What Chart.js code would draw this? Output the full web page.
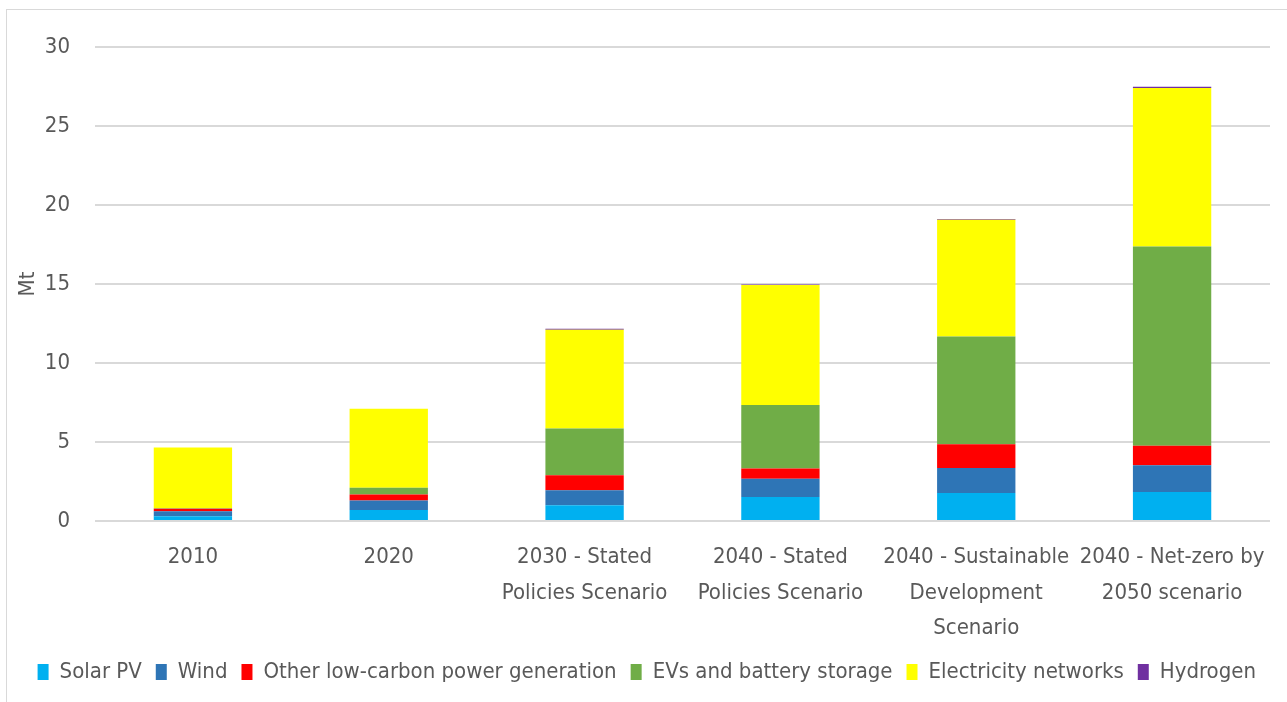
<!DOCTYPE html>
<html>
<head>
<meta charset="utf-8">
<script src="https://cdn.jsdelivr.net/npm/chart.js@4.4.0/dist/chart.umd.min.js"></script>
<style>
  html, body { margin: 0; padding: 0; background: #fff; }
  #wrap { position: relative; width: 1287px; height: 702px; }
  #frame { position: absolute; left: 6px; top: 9px; width: 1300px; height: 720px; border: 1px solid #d9d9d9; pointer-events: none; }
</style>
</head>
<body>
<div id="wrap">
  <canvas id="grafico" width="1287" height="702"></canvas>
  <div id="frame"></div>
</div>
<script>
// categorias (eixo x)
const categorias = [
  "2010",
  "2020",
  ["2030 - Stated", "Policies Scenario"],
  ["2040 - Stated", "Policies Scenario"],
  ["2040 - Sustainable", "Development", "Scenario"],
  ["2040 - Net-zero by", "2050 scenario"]
];

// valores em Mt por tecnologia
const solarPV = [0.30, 0.70, 1.00, 1.52, 1.78, 1.84];
const wind = [0.32, 0.60, 0.95, 1.16, 1.58, 1.69];
const outrasBaixoCarbono = [0.16, 0.37, 0.95, 0.64, 1.50, 1.23];
const evsBaterias = [0.02, 0.44, 2.95, 4.02, 6.81, 12.61];
const redesEletricas = [3.85, 5.00, 6.25, 7.60, 7.40, 10.03];
const hidrogenio = [0.00, 0.00, 0.06, 0.03, 0.05, 0.08];

const yTicks = [0, 5, 10, 15, 20, 25, 30];

const fonte = "'DejaVu Sans Condensed', 'Liberation Sans Narrow', sans-serif";
const cinza = "#595959";

const series = [
  { label: "Solar PV", data: solarPV, cor: "#00B0F0" },
  { label: "Wind", data: wind, cor: "#2E75B6" },
  { label: "Other low-carbon power generation", data: outrasBaixoCarbono, cor: "#FF0000" },
  { label: "EVs and battery storage", data: evsBaterias, cor: "#70AD47" },
  { label: "Electricity networks", data: redesEletricas, cor: "#FFFF00" },
  { label: "Hydrogen", data: hidrogenio, cor: "#7030A0" }
];

const ctx = document.getElementById("grafico").getContext("2d");
const chart = new Chart(ctx, {
  type: "bar",
  data: {
    labels: categorias,
    datasets: series.map(s => ({
      label: s.label,
      data: s.data,
      backgroundColor: s.cor,
      borderWidth: 0,
      categoryPercentage: 1,
      barPercentage: 0.4
    }))
  },
  options: {
    responsive: false,
    animation: false,
    layout: { padding: { left: 7, right: 17, top: 47, bottom: 9 } },
    plugins: {
      tooltip: { enabled: false },
      legend: {
        position: "bottom",
        align: "end",
        labels: {
          font: { family: fonte, size: 22 },
          color: cinza,
          boxWidth: 11,
          boxHeight: 16,
          padding: 14
        }
      }
    },
    scales: {
      x: {
        stacked: true,
        grid: { display: false },
        border: { display: false },
        afterFit: axis => { axis.height = 126; },
        ticks: {
          font: { family: fonte, size: 22, lineHeight: 1.6 },
          color: cinza,
          maxRotation: 0,
          autoSkip: false,
          padding: 11
        }
      },
      y: {
        stacked: true,
        min: 0,
        max: 30,
        afterBuildTicks: axis => { axis.ticks = yTicks.map(v => ({ value: v })); },
        afterFit: axis => { axis.width = 88; },
        grid: { color: "#d9d9d9", lineWidth: 2, drawTicks: false },
        border: { display: false },
        ticks: {
          font: { family: fonte, size: 22 },
          color: cinza,
          padding: 25
        },
        title: {
          display: true,
          text: "Mt",
          font: { family: fonte, size: 22 },
          color: cinza,
          padding: { top: 8, bottom: 8 }
        }
      }
    }
  }
});
</script>
</body>
</html>
